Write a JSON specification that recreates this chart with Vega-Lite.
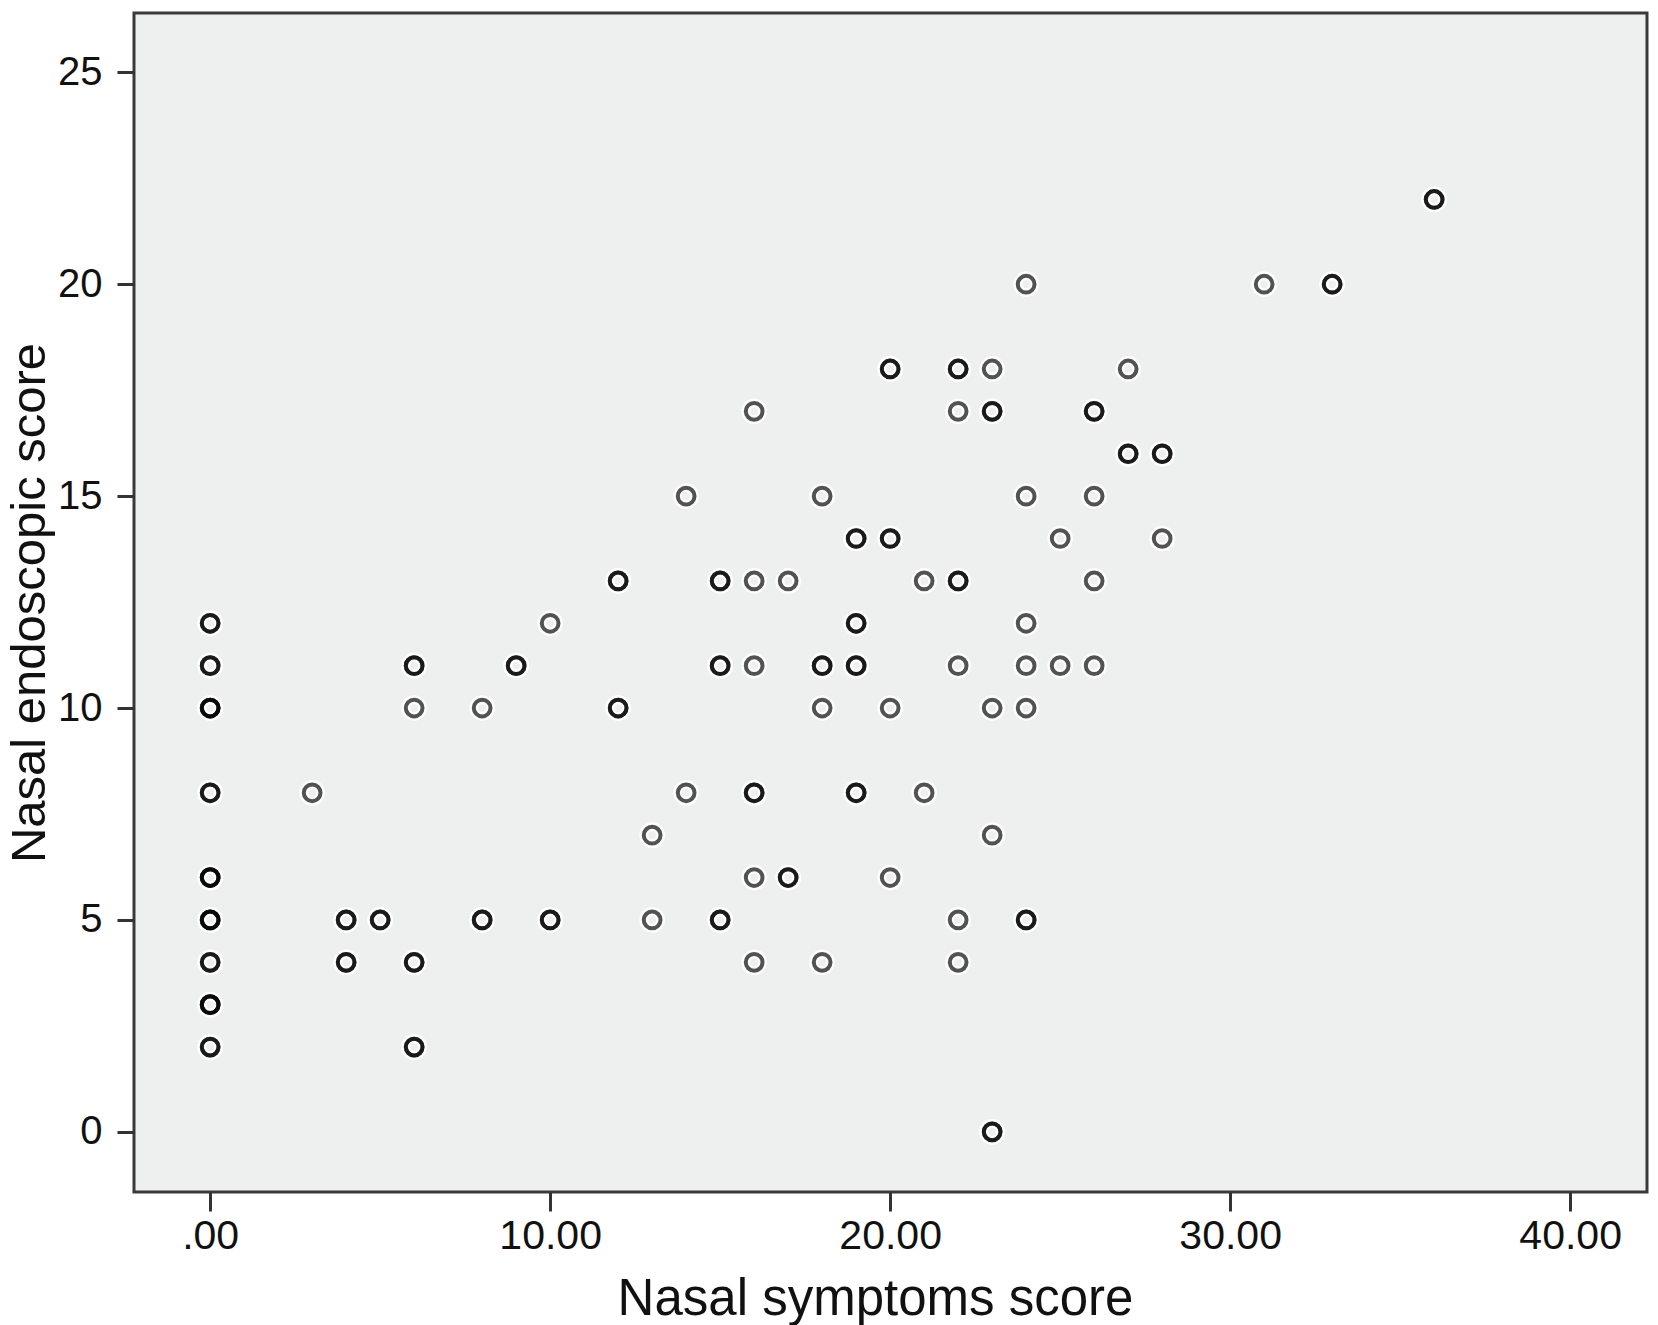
{
  "$schema": "https://vega.github.io/schema/vega-lite/v6.json",
  "width": 1513,
  "height": 1179,
  "autosize": {"type": "none"},
  "padding": {"left": 134, "top": 13, "right": 11, "bottom": 133},
  "background": "#ffffff",
  "config": {
    "view": {"fill": "#EEEFEF", "stroke": "#3a3a3a", "strokeWidth": 3},
    "font": "Liberation Sans"
  },
  "data": {
    "values": [
      {"symptoms": 0, "endoscopic": 12}, {"symptoms": 0, "endoscopic": 12},
      {"symptoms": 0, "endoscopic": 11}, {"symptoms": 0, "endoscopic": 11},
      {"symptoms": 0, "endoscopic": 10}, {"symptoms": 0, "endoscopic": 10}, {"symptoms": 0, "endoscopic": 10},
      {"symptoms": 0, "endoscopic": 8}, {"symptoms": 0, "endoscopic": 8},
      {"symptoms": 0, "endoscopic": 6}, {"symptoms": 0, "endoscopic": 6}, {"symptoms": 0, "endoscopic": 6},
      {"symptoms": 0, "endoscopic": 5}, {"symptoms": 0, "endoscopic": 5}, {"symptoms": 0, "endoscopic": 5},
      {"symptoms": 0, "endoscopic": 4}, {"symptoms": 0, "endoscopic": 4},
      {"symptoms": 0, "endoscopic": 3}, {"symptoms": 0, "endoscopic": 3}, {"symptoms": 0, "endoscopic": 3},
      {"symptoms": 0, "endoscopic": 2}, {"symptoms": 0, "endoscopic": 2},
      {"symptoms": 3, "endoscopic": 8},
      {"symptoms": 4, "endoscopic": 5}, {"symptoms": 4, "endoscopic": 5},
      {"symptoms": 4, "endoscopic": 4}, {"symptoms": 4, "endoscopic": 4},
      {"symptoms": 5, "endoscopic": 5}, {"symptoms": 5, "endoscopic": 5},
      {"symptoms": 6, "endoscopic": 11}, {"symptoms": 6, "endoscopic": 11},
      {"symptoms": 6, "endoscopic": 10},
      {"symptoms": 6, "endoscopic": 4}, {"symptoms": 6, "endoscopic": 4},
      {"symptoms": 6, "endoscopic": 2}, {"symptoms": 6, "endoscopic": 2},
      {"symptoms": 8, "endoscopic": 10},
      {"symptoms": 8, "endoscopic": 5}, {"symptoms": 8, "endoscopic": 5},
      {"symptoms": 9, "endoscopic": 11}, {"symptoms": 9, "endoscopic": 11},
      {"symptoms": 10, "endoscopic": 12},
      {"symptoms": 10, "endoscopic": 5}, {"symptoms": 10, "endoscopic": 5},
      {"symptoms": 12, "endoscopic": 13}, {"symptoms": 12, "endoscopic": 13},
      {"symptoms": 12, "endoscopic": 10}, {"symptoms": 12, "endoscopic": 10},
      {"symptoms": 13, "endoscopic": 7},
      {"symptoms": 13, "endoscopic": 5},
      {"symptoms": 14, "endoscopic": 15},
      {"symptoms": 14, "endoscopic": 8},
      {"symptoms": 15, "endoscopic": 13}, {"symptoms": 15, "endoscopic": 13},
      {"symptoms": 15, "endoscopic": 11}, {"symptoms": 15, "endoscopic": 11},
      {"symptoms": 15, "endoscopic": 5}, {"symptoms": 15, "endoscopic": 5},
      {"symptoms": 16, "endoscopic": 17},
      {"symptoms": 16, "endoscopic": 13},
      {"symptoms": 16, "endoscopic": 11},
      {"symptoms": 16, "endoscopic": 8}, {"symptoms": 16, "endoscopic": 8},
      {"symptoms": 16, "endoscopic": 6},
      {"symptoms": 16, "endoscopic": 4},
      {"symptoms": 17, "endoscopic": 13},
      {"symptoms": 17, "endoscopic": 6}, {"symptoms": 17, "endoscopic": 6},
      {"symptoms": 18, "endoscopic": 15},
      {"symptoms": 18, "endoscopic": 11}, {"symptoms": 18, "endoscopic": 11},
      {"symptoms": 18, "endoscopic": 10},
      {"symptoms": 18, "endoscopic": 4},
      {"symptoms": 19, "endoscopic": 14}, {"symptoms": 19, "endoscopic": 14},
      {"symptoms": 19, "endoscopic": 12}, {"symptoms": 19, "endoscopic": 12},
      {"symptoms": 19, "endoscopic": 11}, {"symptoms": 19, "endoscopic": 11},
      {"symptoms": 19, "endoscopic": 8}, {"symptoms": 19, "endoscopic": 8},
      {"symptoms": 20, "endoscopic": 18}, {"symptoms": 20, "endoscopic": 18},
      {"symptoms": 20, "endoscopic": 14}, {"symptoms": 20, "endoscopic": 14},
      {"symptoms": 20, "endoscopic": 10},
      {"symptoms": 20, "endoscopic": 6},
      {"symptoms": 21, "endoscopic": 13},
      {"symptoms": 21, "endoscopic": 8},
      {"symptoms": 22, "endoscopic": 18}, {"symptoms": 22, "endoscopic": 18},
      {"symptoms": 22, "endoscopic": 17},
      {"symptoms": 22, "endoscopic": 13}, {"symptoms": 22, "endoscopic": 13},
      {"symptoms": 22, "endoscopic": 11},
      {"symptoms": 22, "endoscopic": 5},
      {"symptoms": 22, "endoscopic": 4},
      {"symptoms": 23, "endoscopic": 18},
      {"symptoms": 23, "endoscopic": 17}, {"symptoms": 23, "endoscopic": 17},
      {"symptoms": 23, "endoscopic": 10},
      {"symptoms": 23, "endoscopic": 7},
      {"symptoms": 23, "endoscopic": 0}, {"symptoms": 23, "endoscopic": 0},
      {"symptoms": 24, "endoscopic": 20},
      {"symptoms": 24, "endoscopic": 15},
      {"symptoms": 24, "endoscopic": 12},
      {"symptoms": 24, "endoscopic": 11},
      {"symptoms": 24, "endoscopic": 10},
      {"symptoms": 24, "endoscopic": 5}, {"symptoms": 24, "endoscopic": 5},
      {"symptoms": 25, "endoscopic": 14},
      {"symptoms": 25, "endoscopic": 11},
      {"symptoms": 26, "endoscopic": 17}, {"symptoms": 26, "endoscopic": 17},
      {"symptoms": 26, "endoscopic": 15},
      {"symptoms": 26, "endoscopic": 13},
      {"symptoms": 26, "endoscopic": 11},
      {"symptoms": 27, "endoscopic": 18},
      {"symptoms": 27, "endoscopic": 16}, {"symptoms": 27, "endoscopic": 16},
      {"symptoms": 28, "endoscopic": 16}, {"symptoms": 28, "endoscopic": 16},
      {"symptoms": 28, "endoscopic": 14},
      {"symptoms": 31, "endoscopic": 20},
      {"symptoms": 33, "endoscopic": 20}, {"symptoms": 33, "endoscopic": 20},
      {"symptoms": 36, "endoscopic": 22}, {"symptoms": 36, "endoscopic": 22}
    ]
  },
  "encoding": {
    "x": {
      "field": "symptoms", "type": "quantitative",
      "scale": {"domain": [-2.24, 42.26], "nice": false, "zero": false},
      "axis": {
        "values": [0, 10, 20, 30, 40],
        "labelExpr": "datum.value == 0 ? '.00' : format(datum.value, '.2f')",
        "domain": false, "grid": false,
        "tickSize": 19, "tickWidth": 3, "tickColor": "#333333",
        "labelPadding": 5, "labelFontSize": 41, "labelColor": "#111111",
        "labelFont": "Liberation Sans",
        "title": "Nasal symptoms score",
        "titleFont": "Liberation Sans", "titleFontSize": 51, "titleFontWeight": "normal",
        "titleColor": "#111111",
        "titleX": 741, "titleY": 122, "titleBaseline": "alphabetic", "titleAlign": "center"
      }
    },
    "y": {
      "field": "endoscopic", "type": "quantitative",
      "scale": {"domain": [-1.42, 26.4], "nice": false, "zero": false},
      "axis": {
        "values": [0, 5, 10, 15, 20, 25],
        "domain": false, "grid": false,
        "tickSize": 17, "tickWidth": 3, "tickColor": "#333333",
        "labelPadding": 15, "labelFontSize": 40, "labelColor": "#111111",
        "labelFont": "Liberation Sans",
        "title": "Nasal endoscopic score",
        "titleFont": "Liberation Sans", "titleFontSize": 49, "titleFontWeight": "normal",
        "titleColor": "#111111",
        "titleX": -90, "titleY": 589.5, "titleBaseline": "alphabetic", "titleAlign": "center", "titleAngle": -90
      }
    }
  },
  "layer": [
    {
      "mark": {"type": "point", "shape": "circle", "filled": false, "size": 280, "stroke": "#ffffff", "strokeWidth": 9, "opacity": 0.9}
    },
    {
      "mark": {"type": "point", "shape": "circle", "filled": false, "size": 280, "stroke": "#000000", "strokeWidth": 4, "strokeOpacity": 0.68, "opacity": 1}
    }
  ]
}
